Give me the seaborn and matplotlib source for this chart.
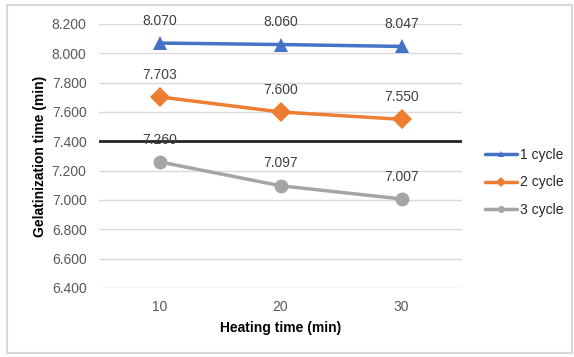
import matplotlib
matplotlib.use("Agg")
import matplotlib.pyplot as plt
from matplotlib.patches import Rectangle
import seaborn as sns
import pandas as pd

# data
heating = ["10", "20", "30"]
cycle1 = [8.070, 8.060, 8.047]
cycle2 = [7.703, 7.600, 7.550]
cycle3 = [7.260, 7.097, 7.007]
series_names = ["1 cycle", "2 cycle", "3 cycle"]
yticks = [6.4, 6.6, 6.8, 7.0, 7.2, 7.4, 7.6, 7.8, 8.0, 8.2]

df = pd.DataFrame({
    "heat": heating * 3,
    "val": cycle1 + cycle2 + cycle3,
    "cycle": [n for n in series_names for _ in heating],
})

sns.set_style("white")
plt.rcParams["font.family"] = ["Liberation Sans", "DejaVu Sans"]

fig = plt.figure(figsize=(5.74, 3.57), dpi=100)
ax = fig.add_axes([0.1725, 0.1933, 0.6325, 0.7395])

palette = ["#4472C4", "#ED7D31", "#A5A5A5"]
sns.lineplot(data=df, x="heat", y="val", hue="cycle", style="cycle",
             markers=["^", "D", "o"], dashes=False, palette=palette,
             linewidth=2.5, markersize=10, markeredgewidth=0, ax=ax)

# data labels above each point
for i, (name, vals) in enumerate(zip(series_names, [cycle1, cycle2, cycle3])):
    for j, v in enumerate(vals):
        ax.annotate(f"{v:.3f}", (j, v), xytext=(0, 11), textcoords="offset points",
                    ha="center", va="bottom", fontsize=10, color="#404040")

ax.axhline(7.4, color="#262626", lw=2, zorder=1)

ax.set_xlim(-0.5, 2.5)
ax.set_ylim(6.4, 8.2)
ax.set_yticks(yticks)
ax.set_yticklabels([f"{t:.3f}" for t in yticks])
ax.yaxis.grid(True, color="#D9D9D9", lw=1)
ax.set_axisbelow(True)
for s in ax.spines.values():
    s.set_visible(False)
ax.tick_params(axis="both", length=0, labelsize=10, colors="#595959")
ax.tick_params(axis="x", pad=9)
ax.tick_params(axis="y", pad=9)

ax.set_xlabel("Heating time (min)", fontsize=10, fontweight="bold", color="black", labelpad=5)
ax.set_ylabel("Gelatinization time (min)", fontsize=10, fontweight="bold", color="black", labelpad=3)

handles, labels = ax.get_legend_handles_labels()
for h in handles:
    h.set_markersize(5)
ax.legend(handles, labels, loc="center left", bbox_to_anchor=(1.03, 0.40),
          frameon=False, fontsize=10, handlelength=2.3, handletextpad=0.2,
          labelspacing=0.95)

fig.patches.append(Rectangle((0.012, 0.012), 0.985, 0.973, transform=fig.transFigure,
                             fill=False, edgecolor="#D9D9D9", lw=1.5))

fig.savefig("out.png", dpi=100)
